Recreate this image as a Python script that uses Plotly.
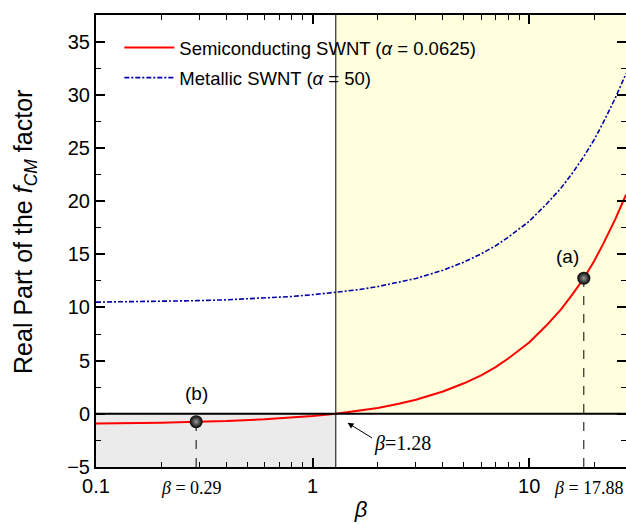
import numpy as np
import plotly.graph_objects as go

# ---- data ----
beta = [0.1, 0.15, 0.2, 0.29, 0.4, 0.6, 0.8, 1.0, 1.28, 1.6, 2.0, 2.5, 3.0, 4.0,
        5.0, 6.0, 7.0, 8.0, 10.0, 12.0, 14.0, 16.0, 17.88, 20.0, 22.0, 25.0, 28.0]
semi = [-0.90, -0.87, -0.83, -0.74, -0.68, -0.52, -0.37, -0.21, 0.0, 0.25, 0.55,
        0.94, 1.32, 2.10, 2.87, 3.62, 4.40, 5.20, 6.70, 8.30, 9.80, 11.35, 12.75,
        14.40, 16.00, 18.30, 20.60]
metal = [10.50, 10.54, 10.57, 10.64, 10.72, 10.88, 11.03, 11.20, 11.40, 11.65,
         11.96, 12.35, 12.73, 13.50, 14.27, 15.04, 15.80, 16.60, 18.10, 19.70,
         21.20, 22.75, 24.20, 25.80, 27.40, 29.70, 32.00]
beta_cross = 1.28
points_beta = [0.29, 17.88]
points_val = [-0.74, 12.75]
points_lbl = ["(b)", "(a)"]

x_range = [0.1, 28.0]
y_range = [-5, 37.5]
y_ticks = [-5, 0, 5, 10, 15, 20, 25, 30, 35]
x_ticks = [0.1, 1, 10]
x_minor = [0.2, 0.3, 0.4, 0.5, 0.6, 0.7, 0.8, 0.9, 2, 3, 4, 5, 6, 7, 8, 9, 20]

SANS = "Liberation Sans, Arial, sans-serif"
SERIF = "Liberation Serif, Times New Roman, serif"

fig = go.Figure()

fig.add_trace(go.Scatter(x=beta, y=semi, mode="lines", line=dict(color="#FF0000", width=2),
                         name="Semiconducting SWNT (<i>α</i> = 0.0625)", legendgroup="a"))
fig.add_trace(go.Scatter(x=beta, y=metal, mode="lines",
                         line=dict(color="#0000A8", width=1.6, dash="5px,2px,2px,2px"),
                         name="Metallic SWNT (<i>α</i> = 50)", legendgroup="b"))

# dashed drop lines
for b, v in zip(points_beta, points_val):
    fig.add_trace(go.Scatter(x=[b, b], y=[y_range[0], v], mode="lines",
                             line=dict(color="black", width=1, dash="dash"),
                             showlegend=False, hoverinfo="skip"))

fig.add_trace(go.Scatter(x=points_beta, y=points_val, mode="markers",
                         marker=dict(size=13, color="black",
                                     gradient=dict(type="radial", color="#9a9a9a")),
                         showlegend=False, hoverinfo="skip"))

# point labels
lbl_shift = [(0, 28), (-16, 22)]
for b, v, t, (dx, dy) in zip(points_beta, points_val, points_lbl, lbl_shift):
    fig.add_annotation(x=np.log10(b), y=v, xref="x", yref="y", text=t, showarrow=False,
                       xshift=dx, yshift=dy, font=dict(family=SANS, size=19, color="black"))

# background regions
fig.add_shape(type="rect", xref="x", yref="y", x0=beta_cross, x1=x_range[1], y0=0, y1=y_range[1],
              fillcolor="#FFFFDD", line=dict(width=0), layer="below")
fig.add_shape(type="rect", xref="x", yref="y", x0=x_range[0], x1=beta_cross, y0=y_range[0], y1=0,
              fillcolor="#EBEBEB", line=dict(width=0), layer="below")
fig.add_shape(type="line", xref="x", yref="y", x0=beta_cross, x1=beta_cross, y0=y_range[0], y1=y_range[1],
              line=dict(color="black", width=1), layer="below")
fig.add_shape(type="line", xref="paper", yref="y", x0=0, x1=1, y0=0, y1=0,
              line=dict(color="black", width=2))

# annotations
fig.add_annotation(x=np.log10(1.45), y=-0.85, xref="x", yref="y", text="",
                   showarrow=True, ax=26, ay=16, arrowhead=2, arrowsize=1.2,
                   arrowwidth=1, arrowcolor="black")
fig.add_annotation(x=np.log10(2.6), y=-2.75, xref="x", yref="y",
                   text="<i>β</i>=1.28", showarrow=False,
                   font=dict(family=SERIF, size=20, color="black"))
for b, sh in zip(points_beta, [-5, 5]):
    fig.add_annotation(x=np.log10(b), y=-0.046, xref="x", yref="paper", yanchor="middle",
                       xshift=sh, text="<i>β</i> = %s" % (("%.2f" % b)), showarrow=False,
                       font=dict(family=SERIF, size=18, color="black"))

# y-axis title
fig.add_annotation(x=-0.134, y=0.52, xref="paper", yref="paper", textangle=-90,
                   xanchor="center", yanchor="middle",
                   text="Real Part of the <i>f</i><sub><i>CM</i></sub> factor", showarrow=False,
                   font=dict(family=SANS, size=25, color="black"))

fig.update_layout(
    width=626, height=524, autosize=False,
    margin=dict(l=96, r=0, t=15, b=57, autoexpand=False),
    paper_bgcolor="white", plot_bgcolor="white",
    showlegend=True,
    legend=dict(x=0.044, y=0.969, xanchor="left", yanchor="top",
                bgcolor="rgba(0,0,0,0)", font=dict(family=SANS, size=18.5, color="black"),
                tracegroupgap=3, itemwidth=50),
    font=dict(family=SANS, color="black"),
)

fig.update_xaxes(type="log", range=[np.log10(x_range[0]), np.log10(x_range[1])],
                 tickvals=x_ticks, ticktext=["0.1", "1", "10"],
                 ticks="inside", ticklen=9, tickwidth=1.5, tickcolor="black",
                 minor=dict(tickvals=x_minor, ticks="inside", ticklen=5, tickwidth=1, tickcolor="black"),
                 showline=True, linewidth=2, linecolor="black", mirror="ticks",
                 showgrid=False, zeroline=False, automargin=False,
                 tickfont=dict(family=SANS, size=20, color="black"),
                 title=dict(text="<i>β</i>", font=dict(family=SANS, size=22, color="black"), standoff=6))
fig.update_yaxes(range=y_range, tickvals=y_ticks,
                 ticks="inside", ticklen=9, tickwidth=1.5, tickcolor="black",
                 minor=dict(dtick=2.5, tick0=0, ticks="inside", ticklen=5, tickwidth=1, tickcolor="black"),
                 showline=True, linewidth=2, linecolor="black", mirror="ticks",
                 showgrid=False, zeroline=False, automargin=False,
                 tickfont=dict(family=SANS, size=20, color="black"))

fig.write_html("out.html", config={"responsive": False, "displayModeBar": False},
               post_script="document.body.style.margin='0';document.body.style.overflow='hidden';")
